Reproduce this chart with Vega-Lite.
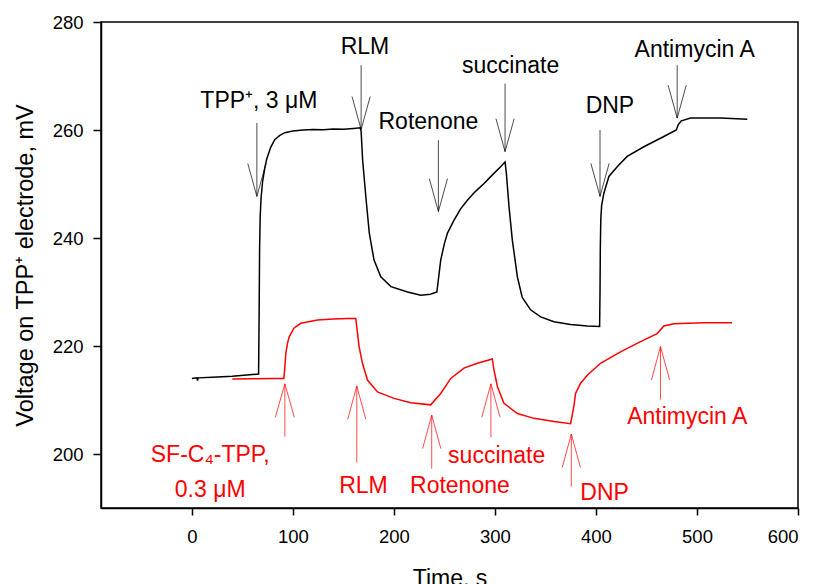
{
  "$schema": "https://vega.github.io/schema/vega-lite/v6.json",
  "width": 697,
  "height": 486,
  "autosize": "none",
  "padding": {"left": 101, "top": 22, "right": 16, "bottom": 76},
  "background": "white",
  "config": {
    "view": {"stroke": "black", "strokeWidth": 1.5},
    "font": "Liberation Sans",
    "axis": {"grid": false, "domainColor": "black", "domainWidth": 1.5, "tickColor": "black", "tickWidth": 1.5, "labelColor": "black", "titleColor": "black", "labelFont": "Liberation Sans", "titleFont": "Liberation Sans", "titleFontWeight": "normal", "labelFontSize": 18.5, "titleFontSize": 23}
  },
  "datasets": {
    "trace": [
      {"s": "black", "t": 0, "v": 214.0}, {"s": "black", "t": 5, "v": 214.1}, {"s": "black", "t": 5.6, "v": 213.6}, {"s": "black", "t": 6.2, "v": 214.1},
      {"s": "black", "t": 20, "v": 214.2}, {"s": "black", "t": 40, "v": 214.4}, {"s": "black", "t": 60, "v": 214.7}, {"s": "black", "t": 66, "v": 214.8},
      {"s": "black", "t": 66.5, "v": 225}, {"s": "black", "t": 67, "v": 238}, {"s": "black", "t": 67.6, "v": 244}, {"s": "black", "t": 68.5, "v": 247.5},
      {"s": "black", "t": 70, "v": 250.5}, {"s": "black", "t": 72, "v": 252.8}, {"s": "black", "t": 74, "v": 254.6}, {"s": "black", "t": 78, "v": 256.8},
      {"s": "black", "t": 82, "v": 258.2}, {"s": "black", "t": 87, "v": 259.0}, {"s": "black", "t": 92, "v": 259.5}, {"s": "black", "t": 100, "v": 259.8},
      {"s": "black", "t": 110, "v": 260.0}, {"s": "black", "t": 120, "v": 260.1}, {"s": "black", "t": 130, "v": 260.05}, {"s": "black", "t": 140, "v": 260.2},
      {"s": "black", "t": 150, "v": 260.15}, {"s": "black", "t": 160, "v": 260.3}, {"s": "black", "t": 166.5, "v": 260.4},
      {"s": "black", "t": 167.5, "v": 259.8}, {"s": "black", "t": 169, "v": 254.4}, {"s": "black", "t": 172.5, "v": 247}, {"s": "black", "t": 175.6, "v": 240.9},
      {"s": "black", "t": 180.3, "v": 235.9}, {"s": "black", "t": 187, "v": 232.8}, {"s": "black", "t": 197, "v": 231.0}, {"s": "black", "t": 213.5, "v": 230.0},
      {"s": "black", "t": 226.6, "v": 229.4}, {"s": "black", "t": 236, "v": 229.6}, {"s": "black", "t": 242.5, "v": 230.0},
      {"s": "black", "t": 246.3, "v": 235.9}, {"s": "black", "t": 250, "v": 239.0}, {"s": "black", "t": 253, "v": 240.9}, {"s": "black", "t": 259.5, "v": 243.3},
      {"s": "black", "t": 266, "v": 245.4}, {"s": "black", "t": 272.7, "v": 247.0}, {"s": "black", "t": 280, "v": 248.5}, {"s": "black", "t": 289.2, "v": 250.1},
      {"s": "black", "t": 297, "v": 251.6}, {"s": "black", "t": 305.6, "v": 253.2}, {"s": "black", "t": 310, "v": 254.1},
      {"s": "black", "t": 311.3, "v": 252.0}, {"s": "black", "t": 313.9, "v": 245.8}, {"s": "black", "t": 317.2, "v": 239.6}, {"s": "black", "t": 322.2, "v": 232.8},
      {"s": "black", "t": 327, "v": 229.0}, {"s": "black", "t": 335.3, "v": 226.7}, {"s": "black", "t": 345.2, "v": 225.4}, {"s": "black", "t": 358.4, "v": 224.5},
      {"s": "black", "t": 374.9, "v": 224.0}, {"s": "black", "t": 391.4, "v": 223.7}, {"s": "black", "t": 403.6, "v": 223.6},
      {"s": "black", "t": 404, "v": 230}, {"s": "black", "t": 404.3, "v": 238}, {"s": "black", "t": 404.8, "v": 243.5}, {"s": "black", "t": 405.6, "v": 246},
      {"s": "black", "t": 407.8, "v": 248.3}, {"s": "black", "t": 412.8, "v": 251.4}, {"s": "black", "t": 421, "v": 253.2}, {"s": "black", "t": 430.9, "v": 255.1},
      {"s": "black", "t": 447.4, "v": 256.9}, {"s": "black", "t": 467.2, "v": 258.8}, {"s": "black", "t": 479.5, "v": 260.0}, {"s": "black", "t": 481.5, "v": 261.0},
      {"s": "black", "t": 484.5, "v": 261.7}, {"s": "black", "t": 493.7, "v": 262.2}, {"s": "black", "t": 510, "v": 262.2}, {"s": "black", "t": 523.4, "v": 262.2},
      {"s": "black", "t": 549.8, "v": 262.0},
      {"s": "red", "t": 40, "v": 213.9}, {"s": "red", "t": 60, "v": 213.95}, {"s": "red", "t": 80, "v": 214.0}, {"s": "red", "t": 91, "v": 214.0},
      {"s": "red", "t": 92, "v": 216.0}, {"s": "red", "t": 93, "v": 218.7}, {"s": "red", "t": 94.6, "v": 220.5}, {"s": "red", "t": 96.3, "v": 221.7},
      {"s": "red", "t": 101, "v": 223.3}, {"s": "red", "t": 107.7, "v": 224.2}, {"s": "red", "t": 124.3, "v": 224.8}, {"s": "red", "t": 140, "v": 225.0},
      {"s": "red", "t": 155, "v": 225.1}, {"s": "red", "t": 162.2, "v": 225.1},
      {"s": "red", "t": 165.5, "v": 219.9}, {"s": "red", "t": 168.8, "v": 216.8}, {"s": "red", "t": 173.8, "v": 213.7}, {"s": "red", "t": 183.7, "v": 211.5},
      {"s": "red", "t": 200.1, "v": 210.3}, {"s": "red", "t": 216.6, "v": 209.5}, {"s": "red", "t": 236.4, "v": 209.1},
      {"s": "red", "t": 246.3, "v": 211.2}, {"s": "red", "t": 256.2, "v": 214.0}, {"s": "red", "t": 269.3, "v": 215.9}, {"s": "red", "t": 282.6, "v": 216.8},
      {"s": "red", "t": 297.4, "v": 217.6},
      {"s": "red", "t": 299, "v": 215.6}, {"s": "red", "t": 302.4, "v": 212.5}, {"s": "red", "t": 308.9, "v": 209.4}, {"s": "red", "t": 322.2, "v": 207.5},
      {"s": "red", "t": 338.6, "v": 206.6}, {"s": "red", "t": 358.4, "v": 206.0}, {"s": "red", "t": 374.9, "v": 205.6},
      {"s": "red", "t": 378.1, "v": 208.8}, {"s": "red", "t": 379.8, "v": 211.2}, {"s": "red", "t": 384.8, "v": 213.1}, {"s": "red", "t": 391.4, "v": 214.6},
      {"s": "red", "t": 404.5, "v": 216.8}, {"s": "red", "t": 424.3, "v": 218.9}, {"s": "red", "t": 444.1, "v": 220.8}, {"s": "red", "t": 460.6, "v": 222.3},
      {"s": "red", "t": 467.2, "v": 223.7}, {"s": "red", "t": 477.1, "v": 224.1}, {"s": "red", "t": 506.7, "v": 224.3}, {"s": "red", "t": 534.8, "v": 224.3}
    ],
    "arrows": [
      {"s": "black", "t": 64.3, "v": 261.3, "t2": 64.3, "v2": 247.7},
      {"s": "black", "t": 55.3, "v": 253.8, "t2": 64.3, "v2": 247.7},
      {"s": "black", "t": 73.3, "v": 253.8, "t2": 64.3, "v2": 247.7},
      {"s": "black", "t": 167.5, "v": 272.0, "t2": 167.5, "v2": 260.1},
      {"s": "black", "t": 158.5, "v": 266.2, "t2": 167.5, "v2": 260.1},
      {"s": "black", "t": 176.5, "v": 266.2, "t2": 167.5, "v2": 260.1},
      {"s": "black", "t": 244, "v": 258.1, "t2": 244, "v2": 244.9},
      {"s": "black", "t": 235, "v": 251.0, "t2": 244, "v2": 244.9},
      {"s": "black", "t": 253, "v": 251.0, "t2": 244, "v2": 244.9},
      {"s": "black", "t": 310, "v": 268.6, "t2": 310, "v2": 256.0},
      {"s": "black", "t": 301, "v": 262.1, "t2": 310, "v2": 256.0},
      {"s": "black", "t": 319, "v": 262.1, "t2": 310, "v2": 256.0},
      {"s": "black", "t": 404, "v": 260.0, "t2": 404, "v2": 247.7},
      {"s": "black", "t": 395, "v": 253.8, "t2": 404, "v2": 247.7},
      {"s": "black", "t": 413, "v": 253.8, "t2": 404, "v2": 247.7},
      {"s": "black", "t": 480.4, "v": 272.0, "t2": 480.4, "v2": 262.2},
      {"s": "black", "t": 471.4, "v": 268.3, "t2": 480.4, "v2": 262.2},
      {"s": "black", "t": 489.4, "v": 268.3, "t2": 480.4, "v2": 262.2},
      {"s": "red", "t": 92, "v": 203.2, "t2": 92, "v2": 213.0},
      {"s": "red", "t": 82.6, "v": 206.8, "t2": 92, "v2": 213.0},
      {"s": "red", "t": 101.4, "v": 206.8, "t2": 92, "v2": 213.0},
      {"s": "red", "t": 163.2, "v": 198.4, "t2": 163.2, "v2": 212.6},
      {"s": "red", "t": 154.2, "v": 206.4, "t2": 163.2, "v2": 212.6},
      {"s": "red", "t": 172.2, "v": 206.4, "t2": 163.2, "v2": 212.6},
      {"s": "red", "t": 237.4, "v": 197.3, "t2": 237.4, "v2": 207.2},
      {"s": "red", "t": 228.4, "v": 201.0, "t2": 237.4, "v2": 207.2},
      {"s": "red", "t": 246.4, "v": 201.0, "t2": 237.4, "v2": 207.2},
      {"s": "red", "t": 296, "v": 203.1, "t2": 296, "v2": 213.0},
      {"s": "red", "t": 287, "v": 206.8, "t2": 296, "v2": 213.0},
      {"s": "red", "t": 305, "v": 206.8, "t2": 296, "v2": 213.0},
      {"s": "red", "t": 375.6, "v": 194.0, "t2": 375.6, "v2": 203.7},
      {"s": "red", "t": 366.6, "v": 197.5, "t2": 375.6, "v2": 203.7},
      {"s": "red", "t": 384.6, "v": 197.5, "t2": 375.6, "v2": 203.7},
      {"s": "red", "t": 463.9, "v": 210.1, "t2": 463.9, "v2": 219.9},
      {"s": "red", "t": 454.9, "v": 213.7, "t2": 463.9, "v2": 219.9},
      {"s": "red", "t": 472.9, "v": 213.7, "t2": 463.9, "v2": 219.9}
    ],
    "labels": [
      {"s": "black", "a": "center", "t": 66.3, "v": 264.0, "label": "TPP⁺, 3 μM"},
      {"s": "black", "a": "center", "t": 171.3, "v": 274.1, "label": "RLM"},
      {"s": "black", "a": "center", "t": 234.1, "v": 260.1, "label": "Rotenone"},
      {"s": "black", "a": "center", "t": 315.5, "v": 270.5, "label": "succinate"},
      {"s": "black", "a": "center", "t": 413.8, "v": 263.2, "label": "DNP"},
      {"s": "black", "a": "center", "t": 497.7, "v": 273.6, "label": "Antimycin A"},
      {"s": "red", "a": "left", "t": 18.1, "v": 198.6, "label": "SF-C₄-TPP,"},
      {"s": "red", "a": "left", "t": 18.1, "v": 192.1, "label": "0.3 μM"},
      {"s": "red", "a": "center", "t": 169.8, "v": 192.7, "label": "RLM"},
      {"s": "red", "a": "center", "t": 265.3, "v": 192.7, "label": "Rotenone"},
      {"s": "red", "a": "center", "t": 301.7, "v": 198.4, "label": "succinate"},
      {"s": "red", "a": "center", "t": 408.5, "v": 191.5, "label": "DNP"},
      {"s": "red", "a": "center", "t": 490.4, "v": 205.6, "label": "Antimycin A"}
    ]
  },
  "layer": [
    {
      "data": {"name": "trace"},
      "mark": {"type": "line", "strokeWidth": 1.5, "interpolate": "linear"},
      "encoding": {
        "x": {"field": "t", "type": "quantitative", "title": "Time, s",
              "scale": {"domain": [-90, 600], "nice": false, "zero": false},
              "axis": {"values": [0, 100, 200, 300, 400, 500, 600], "tickSize": 7, "labelBaseline": "alphabetic", "labelPadding": 27, "titleBaseline": "alphabetic", "titleY": 77, "titleX": 348.5}},
        "y": {"field": "v", "type": "quantitative", "title": "Voltage on TPP⁺ electrode, mV",
              "scale": {"domain": [190, 280], "nice": false, "zero": false},
              "axis": {"values": [200, 220, 240, 260, 280], "tickSize": 8, "labelPadding": 10, "titleAngle": -90, "titleBaseline": "alphabetic", "titleAlign": "center", "titleX": -68.7, "titleY": 243, "titleFontSize": 23.5}},
        "detail": {"field": "s"},
        "color": {"field": "s", "type": "nominal", "scale": {"domain": ["black", "red"], "range": ["#000000", "#ff0000"]}, "legend": null}
      }
    },
    {
      "data": {"name": "arrows"},
      "mark": {"type": "rule", "strokeWidth": 1},
      "encoding": {
        "x": {"field": "t", "type": "quantitative"},
        "y": {"field": "v", "type": "quantitative"},
        "x2": {"field": "t2"},
        "y2": {"field": "v2"},
        "color": {"field": "s", "type": "nominal", "scale": {"domain": ["black", "red"], "range": ["#000000", "#ff0000"]}, "legend": null},
        "opacity": {"value": 0.7}
      }
    },
    {
      "data": {"name": "labels"},
      "mark": {"type": "text", "fontSize": 23, "font": "Liberation Sans", "baseline": "alphabetic"},
      "encoding": {
        "x": {"field": "t", "type": "quantitative"},
        "y": {"field": "v", "type": "quantitative"},
        "text": {"field": "label"},
        "align": {"field": "a"},
        "color": {"field": "s", "type": "nominal", "scale": {"domain": ["black", "red"], "range": ["#000000", "#ff0000"]}, "legend": null}
      }
    }
  ]
}
